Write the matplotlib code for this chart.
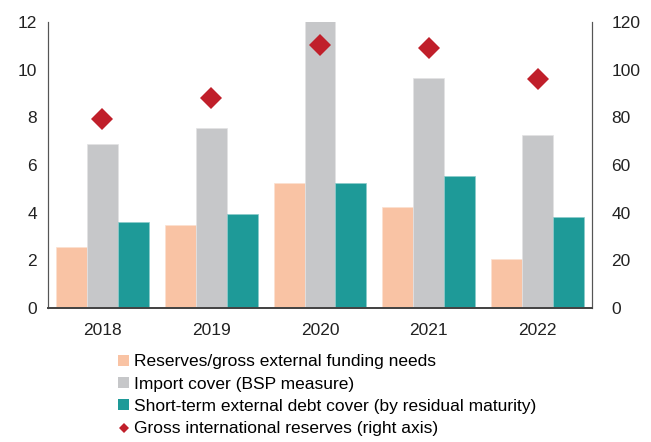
import matplotlib.pyplot as plt
from matplotlib.lines import Line2D
from matplotlib.patches import Patch
import numpy as np

plt.rcParams['font.family'] = ['Liberation Sans', 'DejaVu Sans']

# DATA ------------------------------------------------------------------------
years = ['2018', '2019', '2020', '2021', '2022']
reserves_funding = [2.57, 3.47, 5.25, 4.24, 2.06]      # left axis
import_cover = [6.88, 7.57, 12.3, 9.65, 7.26]          # left axis (2020 runs off the top)
st_debt_cover = [3.62, 3.94, 5.25, 5.54, 3.82]         # left axis
gross_reserves = [79.3, 88.1, 110.4, 109.1, 96.1]      # right axis

labels = ['Reserves/gross external funding needs',
          'Import cover (BSP measure)',
          'Short-term external debt cover (by residual maturity)',
          'Gross international reserves (right axis)']

c_pink = '#F9C3A4'
c_gray = '#C6C7C9'
c_teal = '#1E9A98'
c_red = '#C01F2A'

# PLOT ------------------------------------------------------------------------
fig = plt.figure(figsize=(6.51, 4.42), dpi=100)
ax = fig.add_axes([0.0737, 0.303, 0.9093 - 0.0737, 0.95 - 0.303])

x = np.arange(len(years))
w = 0.284
ax.bar(x - w, reserves_funding, w, color=c_pink, edgecolor='#FBE0D0', linewidth=0.5)
ax.bar(x, import_cover, w, color=c_gray, edgecolor='#E2E2E3', linewidth=0.5)
ax.bar(x + w, st_debt_cover, w, color=c_teal, edgecolor='#8CCBCA', linewidth=0.5)

ax.set_xlim(-0.5, len(years) - 0.5)
ax.set_ylim(0, 12)
ax.set_yticks(range(0, 13, 2))
ax.set_xticks(x)
ax.set_xticklabels(years)

ax2 = ax.twinx()
ax2.plot(x, gross_reserves, linestyle='none', marker='D', markersize=11,
         color=c_red, markeredgewidth=0)
ax2.set_ylim(0, 120)
ax2.set_yticks(range(0, 121, 20))

for a in (ax, ax2):
    a.spines['top'].set_visible(False)
    a.tick_params(length=0, labelsize=12.5, colors='#222222', pad=8)
    a.spines['left'].set_color('#555555')
    a.spines['right'].set_color('#555555')
    a.spines['bottom'].set_color('#444444')
    a.spines['bottom'].set_linewidth(1.3)
ax.tick_params(axis='x', pad=11)
ax2.tick_params(axis='y', pad=14)

handles = [Patch(facecolor=c_pink, edgecolor='none'),
           Patch(facecolor=c_gray, edgecolor='none'),
           Patch(facecolor=c_teal, edgecolor='none'),
           Line2D([], [], linestyle='none', marker='D', markersize=5,
                  color=c_red, markeredgewidth=0)]
fig.legend(handles, labels, loc='upper left', bbox_to_anchor=(0.182, 0.198),
           frameon=False, fontsize=12.5, handlelength=0.6, handleheight=0.6,
           handletextpad=0.3, labelspacing=0.42, borderaxespad=0, borderpad=0)

fig.savefig('out.png', dpi=100)
